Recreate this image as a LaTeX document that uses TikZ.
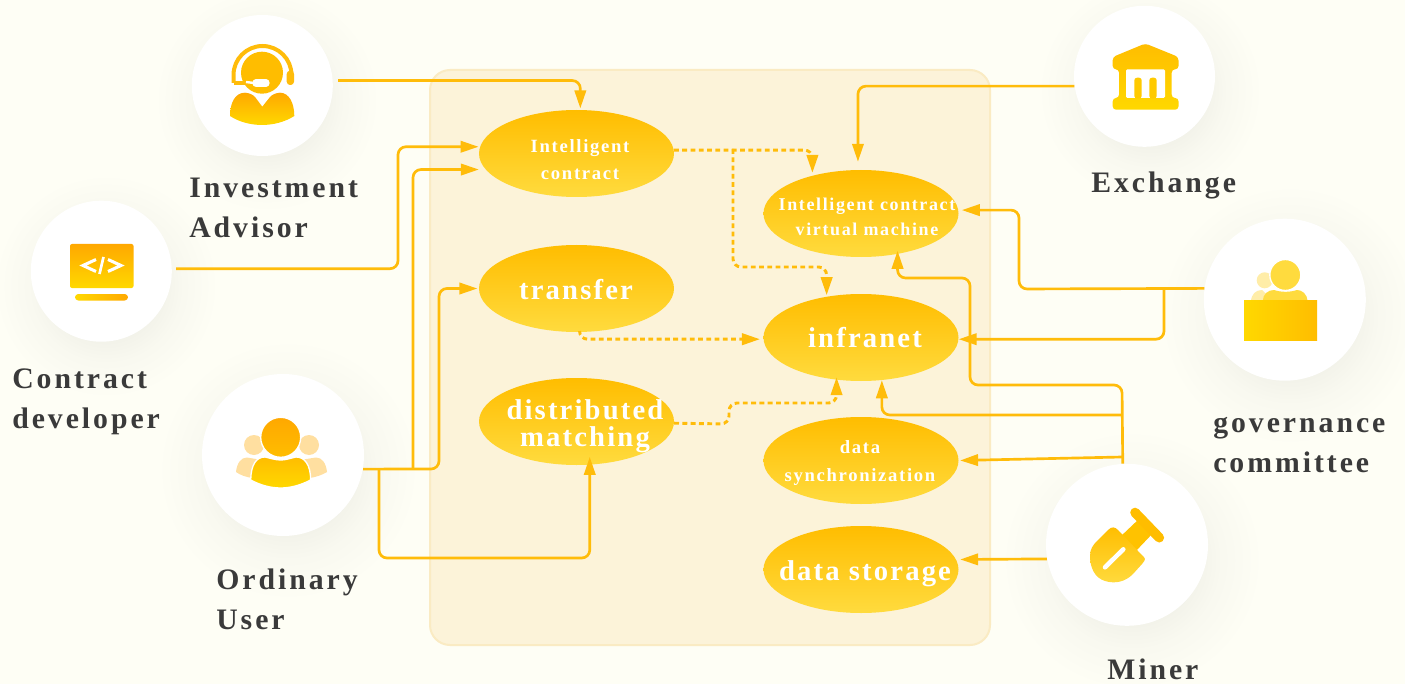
\documentclass[tikz,border=0pt]{standalone}
\usepackage{fontspec}
\usetikzlibrary{shapes.geometric, arrows.meta, calc}
\newfontfamily\namefont[LetterSpace=10]{Liberation Serif Bold}
\newfontfamily\ovalfont[LetterSpace=7.5]{Liberation Serif Bold}
\newfontfamily\ovalsmallfont[LetterSpace=9]{Liberation Serif Bold}
\definecolor{pagebg}{HTML}{FEFEF5}
\definecolor{panelfill}{HTML}{FCF3D9}
\definecolor{paneledge}{HTML}{FAEBC3}
\definecolor{flowgold}{HTML}{FFBC0A}
\definecolor{ovaltop}{HTML}{FFBD00}
\definecolor{ovalbot}{HTML}{FFDB3E}
\definecolor{nameink}{HTML}{3A3A3A}
\definecolor{paleface}{HTML}{FFDFA0}
\definecolor{palelemon}{HTML}{FFEDA8}
\definecolor{deepgold}{HTML}{FFA800}
\definecolor{lemon}{HTML}{FFD800}
\pgfdeclareradialshading{halo}{\pgfpoint{0bp}{0bp}}{
	rgb(0bp)=(.95,.95,.915);
	rgb(12bp)=(.95,.95,.915);
	rgb(17bp)=(.975,.975,.94);
	rgb(25bp)=(.996,.996,.961);
	rgb(50bp)=(.996,.996,.961)}
\tikzset{
	oval/.style={ellipse, minimum width=146.25pt, minimum height=65.25pt, inner sep=0pt, top color=ovaltop, bottom color=ovalbot},
	actor/.style={circle, fill=white, inner sep=0pt, minimum size=105.75pt},
	bigactor/.style={actor, minimum size=121.5pt},
	who/.style={anchor=base west, align=left, inner sep=0pt, text=nameink, font=\fontsize{22.3}{30}\selectfont\namefont},
	ovaltext/.style={anchor=base, inner sep=0pt, text=white, font=\fontsize{21.5}{21.5}\selectfont\ovalfont},
	smalltext/.style={ovaltext, font=\fontsize{14}{14}\selectfont\ovalsmallfont},
	vmtext/.style={ovaltext, font=\fontsize{13.5}{13.5}\selectfont\ovalsmallfont},
	flow/.style={draw=flowgold, line width=2pt, rounded corners=6pt, ->},
	dashflow/.style={flow, line width=2.2pt, dash pattern=on 3.6pt off 2.6pt}
}
\begin{document}
\begin{tikzpicture}[x=0.75pt, y=-0.75pt, >={Triangle[length=13.5pt, width=8.5pt]}]
	\useasboundingbox (0,0) rectangle (1405,684);
	\fill[pagebg] (0,0) rectangle (1405,684);
	
	% soft shadows below the actors
	\foreach \cx/\cy/\rad in {267/100/112, 106/286/112, 288/470/130, 1150/91/112, 1290/315/130, 1132/560/130}
		\shade[shading=halo] (\cx,\cy) circle[radius=\rad];
	
	% middle panel
	\draw[fill=panelfill, draw=paneledge, line width=1.5pt, rounded corners=15pt] (430,70) rectangle (990,645);
	
	% actors
	\node[actor] (invest) at (262.3,85.5) {};
	\node[actor] (dev) at (101.3,271.2) {};
	\node[bigactor] (user) at (283,455) {};
	\node[actor] (exchange) at (1144.5,76.3) {};
	\node[bigactor] (gov) at (1284.8,299.7) {};
	\node[bigactor] (miner) at (1127,544.8) {};
	
	% actor names
	\node[who] (invest_name) at (189,237.5) {Investment\\Advisor};
	\node[who] (dev_name) at (12,428.5) {Contract\\developer};
	\node[who] (user_name) at (216,629.5) {Ordinary\\User};
	\node[who] (exchange_name) at (1091,192.5) {Exchange};
	\node[who] (gov_name) at (1213,472.5) {governance\\committee};
	\node[who] (miner_name) at (1107,679.5) {Miner};
	
	% ovals, left column
	\node[oval] (contract) at (576.5,153.5) {};
	\node[oval] (transfer) at (576.5,288.5) {};
	\node[oval] (matching) at (576.5,421.5) {};
	
	% ovals, right column
	\node[oval] (vm) at (861,213.5) {};
	\node[oval] (infranet) at (861,337.5) {};
	\node[oval] (sync) at (861,460.5) {};
	\node[oval] (storage) at (861,569.5) {};
	
	% oval texts
	\node[smalltext] (contract_a) at (580,152.2) {Intelligent};
	\node[smalltext] (contract_b) at (580,179.5) {contract};
	\node[ovaltext] (transfer_text) at (576,299.5) {transfer};
	\node[ovaltext] (matching_a) at (585,419.5) {distributed};
	\node[ovaltext] (matching_b) at (585,446.2) {matching};
	\node[vmtext] (vm_a) at (867,210.5) {Intelligent contract};
	\node[vmtext] (vm_b) at (867,235.5) {virtual machine};
	\node[ovaltext] (infranet_text) at (865,347.2) {infranet};
	\node[smalltext] (sync_a) at (860,453.5) {data};
	\node[smalltext] (sync_b) at (860,481.5) {synchronization};
	\node[ovaltext] (storage_text) at (865,580.5) {data storage};
	
	% branch points
	\coordinate (user_bus) at (413,469);
	\coordinate (user_low) at (379,469);
	\coordinate (dash_bus) at (733,149);
	\coordinate (gov_bus) at (1164,289);
	\coordinate (miner_mid) at (1122,415);
	\coordinate (miner_sync) at (1122,457);
	
	% left connectors
	\draw[flow, shorten <=4pt, shorten >=1pt] (invest.4.5) -| (contract.85);
	\draw[flow, shorten <=3pt, shorten >=1pt] (dev.2) -- (398,268.7) |- (contract.176);
	\draw[flow, shorten >=5pt] (user_bus) |- (contract.190);
	\draw[flow, shorten >=1pt] (user.-10) -- (439,469) |- (transfer.180);
	\draw[flow, shorten >=-6pt] (user_low) -- (379,558) -| (matching.-73.8);
	
	% dashed connectors
	\draw[dashflow, shorten >=2pt] (contract.2.4) -| (vm.142.6);
	\draw[dashflow, shorten >=1pt] (dash_bus) -- (733,267) -| (infranet.130.8);
	\draw[dashflow, shorten >=2.5pt] (transfer.-86) |- (infranet.181.5);
	\draw[dashflow, shorten >=-2pt] (matching.-1.5) -- (729,424) -- (729,403) -| (infranet.240.3);
	
	% right connectors
	\draw[flow, shorten >=6pt] (exchange.188.7) -| (vm.94);
	\draw[flow, shorten >=2.5pt] (gov.172.4) -- (1019,289) |- (vm.2);
	\draw[flow] (gov_bus) |- (infranet.-1.5);
	\draw[flow, shorten >=-2.5pt] (miner.93.5) -- (1122,385) -- (970,385) -- (970,278) -| (vm.-48.3);
	\draw[flow] (miner_mid) -| (infranet.-64);
	\draw[flow, shorten >=1pt] (miner_sync) -- (sync.east);
	\draw[flow, shorten >=3pt] (miner.190) -- (storage.6.2);
	
	% headset icon
	\fill[ovaltop] (262,72.7) circle[radius=21];
	\draw[flowgold, line width=3pt] (233.5,83) -- (233.5,75) arc[start angle=180, end angle=360, radius=29] -- (291.5,78);
	\draw[flowgold, line width=2.4pt] (233.5,83) -- (250,83);
	\fill[flowgold, rounded corners=2.5pt] (286.7,70.7) rectangle (294,85);
	\draw[white, line width=1.8pt] (246,82) -- (262,84);
	\draw[white, line width=5.5pt, line cap=round] (256,83) -- (266,83);
	\shade[top color=deepgold, bottom color=lemon] (230,116) .. controls (230,103) and (235,92.7) .. (245,92.7) .. controls (250,93) and (253,95) .. (255,97) -- (262.3,106.7) -- (270,97) .. controls (272,95) and (275,93) .. (280,92.7) .. controls (289,92.7) and (294.3,103) .. (294.3,116) .. controls (285,122) and (273,125) .. (262,125) .. controls (251,125) and (239,122) .. (230,116) -- cycle;
	
	% monitor icon
	\shade[shading angle=-45, top color=deepgold, bottom color=lemon, rounded corners=1.5pt] (70,244) rectangle (133.5,288);
	\shade[left color=lemon, right color=deepgold, rounded corners=2.5pt] (75,294) rectangle (128,300.5);
	\draw[white, line width=2.3pt] (96,259.5) -- (83,265.5) -- (96,271.5);
	\draw[white, line width=2pt] (103.5,257) -- (99.5,274);
	\draw[white, line width=2.3pt] (108,259.5) -- (121,265.5) -- (108,271.5);
	
	% people icon
	\fill[paleface] (254,445) circle[radius=10];
	\fill[paleface] (309,445) circle[radius=10];
	\fill[paleface] (236,472) .. controls (237,463) and (241,457.5) .. (247,457.5) -- (262,460) -- (252,478) .. controls (246,477) and (240,475) .. (236,472) -- cycle;
	\fill[paleface] (327,472) .. controls (326,463) and (322,457.5) .. (316,457.5) -- (300,460) -- (310,478) .. controls (316,477) and (322,475) .. (327,472) -- cycle;
	\shade[top color=deepgold, bottom color=ovaltop, draw=white, line width=1pt] (280.7,437.3) circle[radius=20];
	\shade[top color=ovaltop, bottom color=lemon, draw=white, line width=1pt] (250.7,480) .. controls (251,465) and (256,457) .. (265,457) .. controls (270,458) and (275,460) .. (280.7,460) .. controls (286,460) and (291,458) .. (296,457) .. controls (305,457) and (310.5,465) .. (310.7,480) .. controls (300,485.5) and (290,488) .. (280.7,488) .. controls (271,488) and (261,485.5) .. (250.7,480) -- cycle;
	
	% bank icon
	\shade[top color=ovaltop, bottom color=lemon, rounded corners=2.5pt] (1112.7,69.3) -- (1112.7,57) -- (1145.3,43.5) -- (1178.5,57) -- (1178.5,69.3) -- (1171.7,69.3) -- (1171.7,98) -- (1178.5,98) -- (1178.5,109.7) -- (1112.7,109.7) -- (1112.7,98) -- (1119,98) -- (1119,69.3) -- cycle;
	\fill[white, rounded corners=1pt] (1126,69.3) rectangle (1165,98);
	\fill[ovaltop!50!lemon, rounded corners=2pt] (1134.3,77.7) rectangle (1141.7,98.5);
	\fill[ovaltop!50!lemon, rounded corners=2pt] (1149.3,77.7) rectangle (1156.7,98.5);
	
	% committee icon
	\fill[palelemon] (1264.7,280.3) circle[radius=8];
	\fill[palelemon] (1251,302) .. controls (1251,294) and (1256,290) .. (1262,290) -- (1275,302) -- cycle;
	\fill[ovalbot, draw=white, line width=1pt] (1285.3,275) circle[radius=15.5];
	\fill[ovalbot] (1262.7,301) .. controls (1263,294) and (1268,290) .. (1274,290) .. controls (1282,292.5) and (1289,292.5) .. (1297,290) .. controls (1302,290) and (1307,294) .. (1307.7,301) -- cycle;
	\shade[left color=lemon, right color=ovaltop] (1244,300) rectangle (1317,340);
	
	% shovel icon
	\fill[ovaltop!80!lemon] (1140,518) -- (1154,532) -- (1135,552) -- (1120,537) -- cycle;
	\draw[ovaltop, line width=7.2pt, line cap=round] (1135,512.5) -- (1159.3,537.7);
	\shade[shading angle=-45, top color=ovaltop, bottom color=ovalbot] (1108,530) .. controls (1112,526) and (1115,527) .. (1118,530) -- (1141.5,554.7) .. controls (1146,559) and (1146,559) .. (1142,564) -- (1133,574) .. controls (1125,582) and (1115,584) .. (1105,581) .. controls (1095,578) and (1090,568) .. (1090,556) .. controls (1090,549) and (1093,545) .. (1097,541) -- cycle;
	\draw[white, line width=3.4pt, line cap=round] (1105,567.3) -- (1123.3,549.3);
	
\end{tikzpicture}
\end{document}
